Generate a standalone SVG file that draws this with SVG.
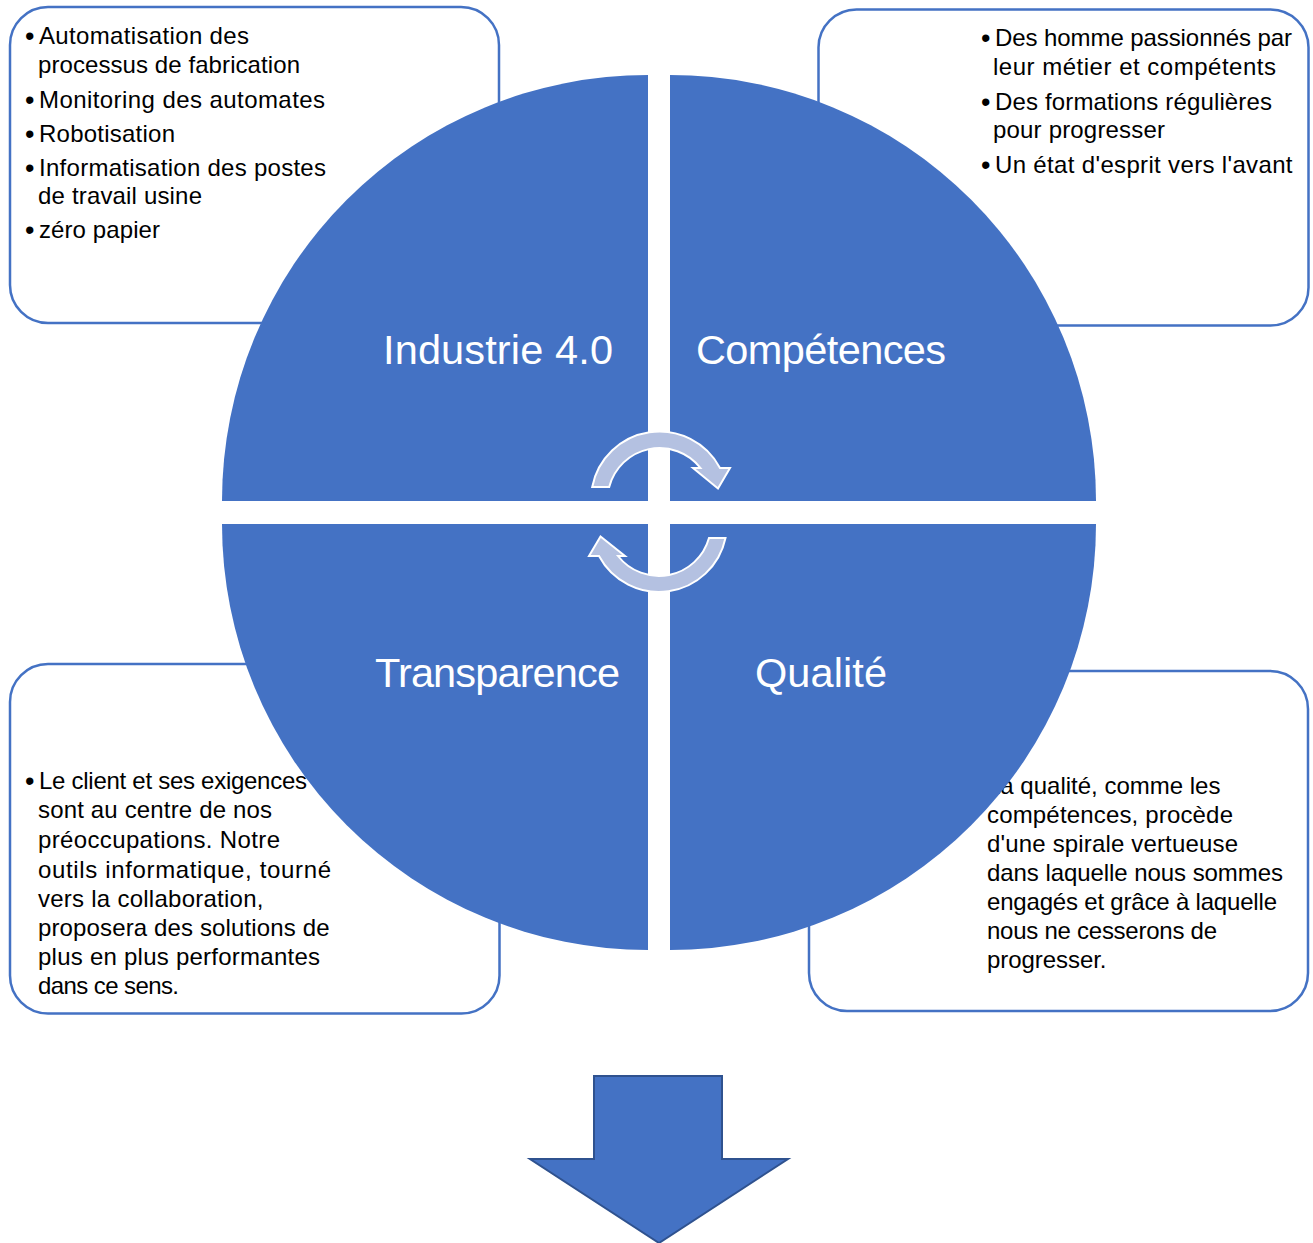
<svg xmlns="http://www.w3.org/2000/svg" width="1313" height="1243" viewBox="0 0 1313 1243">
<style>
.box{fill:#FFFFFF;stroke:#4472C4;stroke-width:2.5}
.quad{fill:#4472C4}
.txt{font-family:"Liberation Sans",Arial,sans-serif;font-size:24px;fill:#000000}
.bul{font-size:27px}
.lbl{font-family:"Liberation Sans",Arial,sans-serif;font-size:41.5px;fill:#FFFFFF}
.cyc{fill:#B4C1E1;stroke:#FFFFFF;stroke-width:2;stroke-linejoin:miter}
.down{fill:#4472C4;stroke:#2F528F;stroke-width:2}
</style>
<rect x="0" y="0" width="1313" height="1243" fill="#FFFFFF"/>

<g id="box-industrie">
<rect class="box" x="10" y="7" width="489" height="316" rx="38" ry="38"/>
<text class="txt"><tspan class="bul" x="25" y="45">•</tspan><tspan x="39" y="44" textLength="210">Automatisation des</tspan><tspan x="38" y="73" textLength="262">processus de fabrication</tspan><tspan class="bul" x="25" y="109">•</tspan><tspan x="39" y="108" textLength="286">Monitoring des automates</tspan><tspan class="bul" x="25" y="143">•</tspan><tspan x="39" y="142" textLength="136">Robotisation</tspan><tspan class="bul" x="25" y="177">•</tspan><tspan x="39" y="176" textLength="287">Informatisation des postes</tspan><tspan x="38" y="204" textLength="164">de travail usine</tspan><tspan class="bul" x="25" y="239">•</tspan><tspan x="39" y="238" textLength="121">zéro papier</tspan></text>
</g>

<g id="box-competences">
<rect class="box" x="818.5" y="9.5" width="490" height="316" rx="38" ry="38"/>
<text class="txt"><tspan class="bul" x="981" y="47">•</tspan><tspan x="995" y="46" textLength="297">Des homme passionnés par</tspan><tspan x="993" y="75" textLength="283">leur métier et compétents</tspan><tspan class="bul" x="981" y="111">•</tspan><tspan x="995" y="110" textLength="277">Des formations régulières</tspan><tspan x="993" y="138" textLength="172">pour progresser</tspan><tspan class="bul" x="981" y="174">•</tspan><tspan x="995" y="173" textLength="297.5">Un état d'esprit vers l'avant</tspan></text>
</g>

<g id="box-transparence">
<rect class="box" x="10" y="664" width="489.5" height="349.5" rx="38" ry="38"/>
<text class="txt"><tspan class="bul" x="25" y="790">•</tspan><tspan x="39" y="789" textLength="268">Le client et ses exigences</tspan><tspan x="38" y="818" textLength="234">sont au centre de nos</tspan><tspan x="38" y="848" textLength="242">préoccupations. Notre</tspan><tspan x="38" y="877.5" textLength="293">outils informatique, tourné</tspan><tspan x="38" y="906.5" textLength="225.5">vers la collaboration,</tspan><tspan x="38" y="936" textLength="291.5">proposera des solutions de</tspan><tspan x="38" y="965" textLength="282">plus en plus performantes</tspan><tspan x="38" y="994" textLength="141">dans ce sens.</tspan></text>
</g>

<g id="box-qualite">
<rect class="box" x="809" y="671" width="499" height="340" rx="38" ry="38"/>
<text class="txt"><tspan x="987" y="794">La qualité, comme les</tspan><tspan x="987" y="823" textLength="246">compétences, procède</tspan><tspan x="987" y="852" textLength="251">d'une spirale vertueuse</tspan><tspan x="987" y="881" textLength="296">dans laquelle nous sommes</tspan><tspan x="987" y="910" textLength="290">engagés et grâce à laquelle</tspan><tspan x="987" y="939" textLength="230">nous ne cesserons de</tspan><tspan x="987" y="968" textLength="119.5">progresser.</tspan></text>
</g>

<g id="quadrant-industrie">
<path class="quad" d="M648,501 L222,501 A426,426 0 0 1 648,75 Z"/>
<text class="lbl" x="383" y="364" textLength="230">Industrie 4.0</text>
</g>
<g id="quadrant-competences">
<path class="quad" d="M670,501 L670,75 A426,426 0 0 1 1096,501 Z"/>
<text class="lbl" x="696" y="364" textLength="250">Compétences</text>
</g>
<g id="quadrant-qualite">
<path class="quad" d="M670,524 L1096,524 A426,426 0 0 1 670,950 Z"/>
<text class="lbl" x="755" y="687" textLength="132">Qualité</text>
</g>
<g id="quadrant-transparence">
<path class="quad" d="M648,524 L648,950 A426,426 0 0 1 222,524 Z"/>
<text class="lbl" x="375" y="687" textLength="245">Transparence</text>
</g>

<g id="connectors">
<path id="cycle-top" class="cyc" d="M592.2,487 A68.5,68.5 0 0 1 720,468 L730,468 L718,488.5 L693,468 L700.5,468 A52,52 0 0 0 609.2,487 Z"/>
<path id="cycle-bottom" class="cyc" d="M725.5,538 A68,68 0 0 1 599,556 L589,556 L600.5,536.5 L625,556 L618,556 A52,52 0 0 0 709,538 Z"/>
<path id="down-arrow" class="down" d="M594,1076 L722,1076 L722,1159 L788,1159 L659,1243 L530,1159 L594,1159 Z"/>
</g>
</svg>
